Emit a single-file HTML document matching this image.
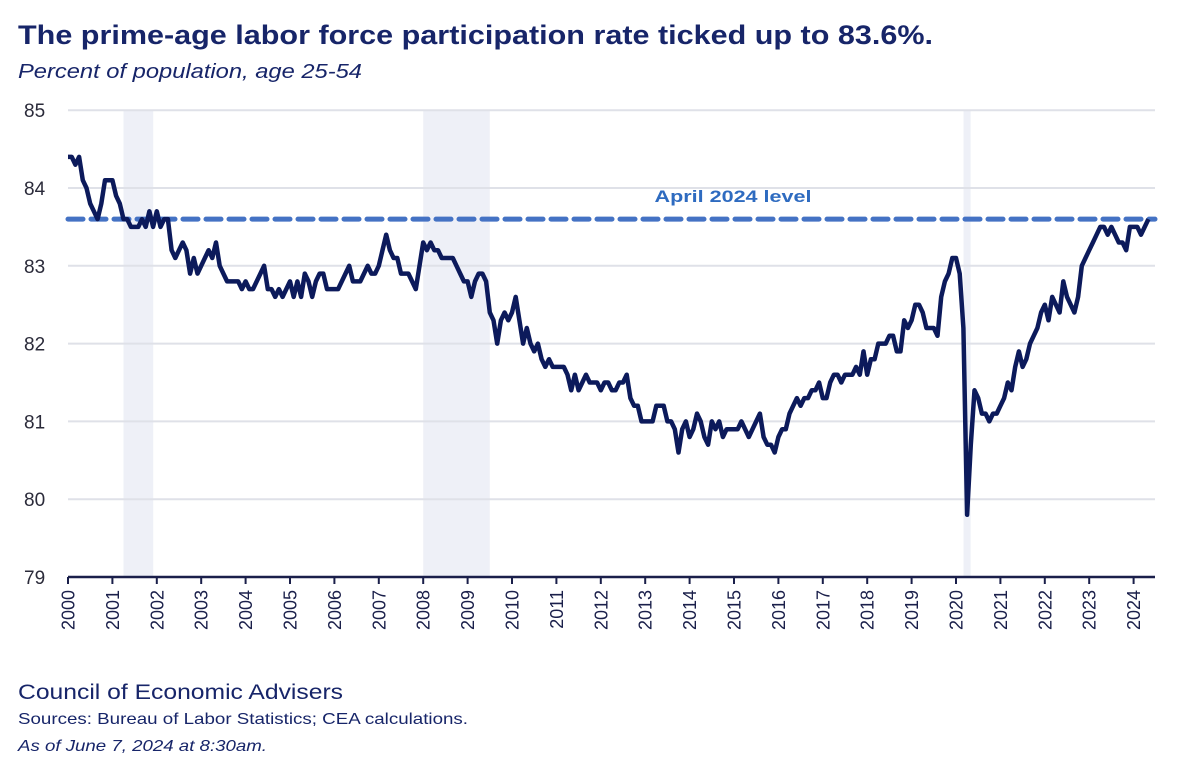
<!DOCTYPE html>
<html><head><meta charset="utf-8"><style>
body{margin:0;background:#fff;width:1200px;height:762px;overflow:hidden;font-family:"Liberation Sans",sans-serif;}
</style></head><body>
<svg width="1200" height="762" viewBox="0 0 1200 762" font-family="Liberation Sans, sans-serif">
<text x="18" y="44" font-size="27" font-weight="bold" fill="#172569" textLength="915" lengthAdjust="spacingAndGlyphs">The prime-age labor force participation rate ticked up to 83.6%.</text>
<text x="18" y="78" font-size="20" font-style="italic" fill="#172569" textLength="344" lengthAdjust="spacingAndGlyphs">Percent of population, age 25-54</text>
<g id="rec"></g><g id="grid"></g><g id="yt"></g><g id="xt"></g>
<line id="ref"/>
<text id="refLabel" font-size="17" font-weight="bold" fill="#2e6bc0" text-anchor="middle" textLength="157" lengthAdjust="spacingAndGlyphs">April 2024 level</text>
<path id="series" fill="none" stroke="#0c1a5b" stroke-width="4.5" stroke-linejoin="round"/>
<text x="18" y="699" font-size="21" fill="#172569" textLength="325" lengthAdjust="spacingAndGlyphs">Council of Economic Advisers</text>
<text x="18" y="724" font-size="16" fill="#172569" textLength="450" lengthAdjust="spacingAndGlyphs">Sources: Bureau of Labor Statistics; CEA calculations.</text>
<text x="18" y="751" font-size="16" font-style="italic" fill="#172569" textLength="249" lengthAdjust="spacingAndGlyphs">As of June 7, 2024 at 8:30am.</text>
</svg>
<script>
const yTicks=[79,80,81,82,83,84,85];
const xYears=[2000,2001,2002,2003,2004,2005,2006,2007,2008,2009,2010,2011,2012,2013,2014,2015,2016,2017,2018,2019,2020,2021,2022,2023,2024];
const recessions=[[2001.25,2001.92],[2008.0,2009.5],[2020.17,2020.33]];
const refLevel=83.6;
const startYear=2000;
const lfpr=[
84.4,84.4,84.3,84.4,84.1,84.0,83.8,83.7,83.6,83.8,84.1,84.1,
84.1,83.9,83.8,83.6,83.6,83.5,83.5,83.5,83.6,83.5,83.7,83.5,
83.7,83.5,83.6,83.6,83.2,83.1,83.2,83.3,83.2,82.9,83.1,82.9,
83.0,83.1,83.2,83.1,83.3,83.0,82.9,82.8,82.8,82.8,82.8,82.7,
82.8,82.7,82.7,82.8,82.9,83.0,82.7,82.7,82.6,82.7,82.6,82.7,
82.8,82.6,82.8,82.6,82.9,82.8,82.6,82.8,82.9,82.9,82.7,82.7,
82.7,82.7,82.8,82.9,83.0,82.8,82.8,82.8,82.9,83.0,82.9,82.9,
83.0,83.2,83.4,83.2,83.1,83.1,82.9,82.9,82.9,82.8,82.7,83.0,
83.3,83.2,83.3,83.2,83.2,83.1,83.1,83.1,83.1,83.0,82.9,82.8,
82.8,82.6,82.8,82.9,82.9,82.8,82.4,82.3,82.0,82.3,82.4,82.3,
82.4,82.6,82.3,82.0,82.2,82.0,81.9,82.0,81.8,81.7,81.8,81.7,
81.7,81.7,81.7,81.6,81.4,81.6,81.4,81.5,81.6,81.5,81.5,81.5,
81.4,81.5,81.5,81.4,81.4,81.5,81.5,81.6,81.3,81.2,81.2,81.0,
81.0,81.0,81.0,81.2,81.2,81.2,81.0,81.0,80.9,80.6,80.9,81.0,
80.8,80.9,81.1,81.0,80.8,80.7,81.0,80.9,81.0,80.8,80.9,80.9,
80.9,80.9,81.0,80.9,80.8,80.9,81.0,81.1,80.8,80.7,80.7,80.6,
80.8,80.9,80.9,81.1,81.2,81.3,81.2,81.3,81.3,81.4,81.4,81.5,
81.3,81.3,81.5,81.6,81.6,81.5,81.6,81.6,81.6,81.7,81.6,81.9,
81.6,81.8,81.8,82.0,82.0,82.0,82.1,82.1,81.9,81.9,82.3,82.2,
82.3,82.5,82.5,82.4,82.2,82.2,82.2,82.1,82.6,82.8,82.9,83.1,
83.1,82.9,82.2,79.8,80.7,81.4,81.3,81.1,81.1,81.0,81.1,81.1,
81.2,81.3,81.5,81.4,81.7,81.9,81.7,81.8,82.0,82.1,82.2,82.4,
82.5,82.3,82.6,82.5,82.4,82.8,82.6,82.5,82.4,82.6,83.0,83.1,
83.2,83.3,83.4,83.5,83.5,83.4,83.5,83.4,83.3,83.3,83.2,83.5,
83.5,83.5,83.4,83.5,83.6];

const NS='http://www.w3.org/2000/svg';
const X0=68,PX=44.4,XR=1155;
const x=t=>X0+(t-2000)*PX;
const y=v=>577-(v-79)*77.8;
function mk(tag,attrs,parent){const e=document.createElementNS(NS,tag);for(const k in attrs)e.setAttribute(k,attrs[k]);document.getElementById(parent).appendChild(e);return e;}

recessions.forEach(r=>{
  const e=mk('rect',{x:x(r[0]),y:y(85),width:x(r[1])-x(r[0]),height:y(79)-y(85),fill:'#eef0f7'},'rec');
  
  
});
yTicks.forEach(v=>{
  if(v>79){const g=mk('line',{x1:X0,x2:XR,y1:y(v),y2:y(v),stroke:'#dfe1e8','stroke-width':2},'grid');
  
  }
  const t=mk('text',{x:24,y:y(v)+7,'font-size':19,fill:'#2b2b3a'},'yt');
  t.textContent=v;
  
  
});
const ax=mk('line',{x1:X0,x2:XR,y1:577,y2:577,stroke:'#1a1f4a','stroke-width':2.5},'xt');


xYears.forEach(yr=>{
  const tk=mk('line',{x1:x(yr),x2:x(yr),y1:577,y2:584,stroke:'#1a1f4a','stroke-width':2},'xt');
  
  
  const t=mk('text',{x:0,y:0,'font-size':18,fill:'#1a1f4a','text-anchor':'end',transform:`translate(${x(yr)+6.5},590) rotate(-90)`},'xt');
  t.textContent=yr;
  
  
});
const ref=document.getElementById('ref');
ref.setAttribute('x1',X0);ref.setAttribute('x2',XR);ref.setAttribute('y1',y(refLevel));ref.setAttribute('y2',y(refLevel));
ref.setAttribute('stroke','#4472c4');ref.setAttribute('stroke-width',5);ref.setAttribute('stroke-dasharray','15 8');ref.setAttribute('stroke-linecap','round');
const rl=document.getElementById('refLabel');rl.setAttribute('x',733);rl.setAttribute('y',y(refLevel)-17);
let d='';lfpr.forEach((v,i)=>{d+=(i?'L':'M')+x(startYear+i/12).toFixed(1)+','+y(v).toFixed(1);});
document.getElementById('series').setAttribute('d',d);
</script>
</body></html>
